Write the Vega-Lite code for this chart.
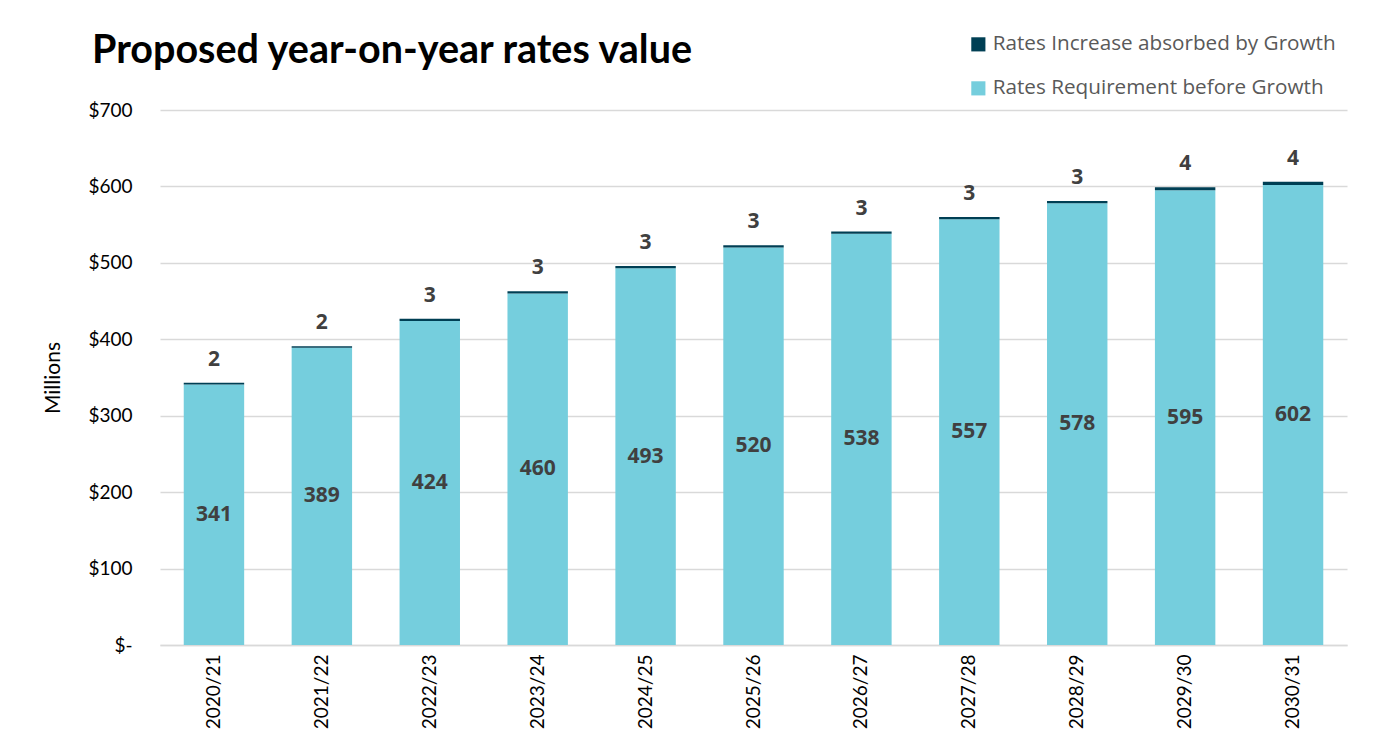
{
  "$schema": "https://vega.github.io/schema/vega-lite/v6.json",
  "autosize": "none",
  "width": 1187,
  "height": 535,
  "padding": {"left": 160, "top": 110, "right": 31, "bottom": 109},
  "background": "white",
  "config": {"view": {"stroke": null}},
  "title": {
    "text": "Proposed year-on-year rates value",
    "anchor": "start",
    "frame": "group",
    "dx": -68,
    "offset": 0,
    "dy": 68,
    "baseline": "alphabetic",
    "font": "Lato",
    "fontSize": 39.5,
    "fontWeight": "bold",
    "color": "#000000"
  },
  "data": {
    "values": [
      {"year": "2020/21", "base": 341, "growth": 2},
      {"year": "2021/22", "base": 389, "growth": 2},
      {"year": "2022/23", "base": 424, "growth": 3},
      {"year": "2023/24", "base": 460, "growth": 3},
      {"year": "2024/25", "base": 493, "growth": 3},
      {"year": "2025/26", "base": 520, "growth": 3},
      {"year": "2026/27", "base": 538, "growth": 3},
      {"year": "2027/28", "base": 557, "growth": 3},
      {"year": "2028/29", "base": 578, "growth": 3},
      {"year": "2029/30", "base": 595, "growth": 4},
      {"year": "2030/31", "base": 602, "growth": 4}
    ]
  },
  "encoding": {
    "x": {
      "field": "year",
      "type": "nominal",
      "sort": null,
      "scale": {"paddingInner": 0.44, "paddingOuter": 0.22},
      "axis": {
        "title": null,
        "labelAngle": -90,
        "labelFont": "Lato",
        "labelFontSize": 19,
        "labelColor": "#000000",
        "labelPadding": 9,
        "ticks": false,
        "domainColor": "#d9d9d9",
        "domainWidth": 1.5
      }
    }
  },
  "layer": [
    {
      "transform": [
        {"fold": ["base", "growth"], "as": ["key", "value"]},
        {"calculate": "datum.key == 'base' ? 'Rates Requirement before Growth' : 'Rates Increase absorbed by Growth'", "as": "series"}
      ],
      "mark": {"type": "bar"},
      "encoding": {
        "y": {
          "field": "value",
          "type": "quantitative",
          "stack": "zero",
          "scale": {"domain": [0, 700]},
          "axis": {
            "title": "Millions",
            "titleFont": "Lato",
            "titleFontSize": 21,
            "titleFontWeight": "normal",
            "titleColor": "#000000",
            "titlePadding": 24,
            "values": [0, 100, 200, 300, 400, 500, 600, 700],
            "labelExpr": "datum.value == 0 ? '$-' : '$' + datum.value",
            "labelFont": "Lato",
            "labelFontSize": 19,
            "labelColor": "#000000",
            "labelPadding": 28,
            "ticks": false,
            "domain": false,
            "gridColor": "#d9d9d9",
            "gridWidth": 1.5
          }
        },
        "color": {
          "field": "series",
          "type": "nominal",
          "scale": {
            "domain": ["Rates Increase absorbed by Growth", "Rates Requirement before Growth"],
            "range": ["#003f54", "#75cedd"]
          },
          "legend": {
            "title": null,
            "orient": "none",
            "legendX": 808,
            "legendY": -76,
            "symbolType": "square",
            "symbolSize": 200,
            "symbolStrokeWidth": 0,
            "labelFont": "Open Sans",
            "labelFontSize": 20.7,
            "labelColor": "#595959",
            "labelOffset": 4,
            "labelLimit": 500,
            "rowPadding": 22
          }
        },
        "order": {"field": "key", "type": "nominal", "sort": "ascending"}
      }
    },
    {
      "transform": [{"calculate": "datum.base / 2", "as": "mid"}],
      "mark": {"type": "text", "font": "Open Sans", "fontSize": 21, "fontWeight": "bold", "color": "#404040", "baseline": "middle"},
      "encoding": {
        "y": {"field": "mid", "type": "quantitative"},
        "text": {"field": "base", "type": "quantitative"}
      }
    },
    {
      "transform": [{"calculate": "datum.base + datum.growth", "as": "total"}],
      "mark": {"type": "text", "font": "Open Sans", "fontSize": 21, "fontWeight": "bold", "color": "#404040", "baseline": "bottom", "dy": -13},
      "encoding": {
        "y": {"field": "total", "type": "quantitative"},
        "text": {"field": "growth", "type": "quantitative"}
      }
    }
  ]
}
